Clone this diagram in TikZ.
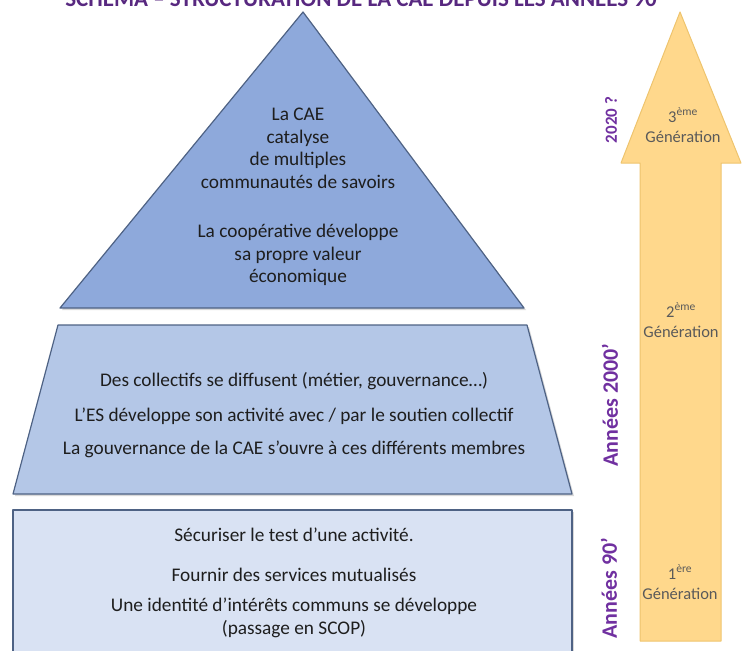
\documentclass[tikz,border=0pt]{standalone}
\usepackage{fontspec}
\setmainfont{Carlito}
\usetikzlibrary{shadows}
\definecolor{topblue}{RGB}{142,169,219}
\definecolor{midblue}{RGB}{180,199,231}
\definecolor{lowblue}{RGB}{217,226,243}
\definecolor{edgeblue}{RGB}{78,98,132}
\definecolor{arrowfill}{RGB}{255,216,140}
\definecolor{arrowedge}{RGB}{238,196,110}
\definecolor{eraviolet}{RGB}{112,48,160}
\definecolor{titleviolet}{RGB}{88,40,128}
\definecolor{bodytext}{RGB}{30,30,30}
\definecolor{gentext}{RGB}{90,90,90}
\begin{document}
\begin{tikzpicture}[x=1pt, y=-1pt,
  level/.style={draw=edgeblue, line width=1.2pt, line join=round,
    drop shadow={shadow xshift=2pt, shadow yshift=-2pt, opacity=0.3}},
  leveltext/.style={align=center, text=bodytext, font=\fontsize{19.3}{22.5}\selectfont},
  era/.style={rotate=90, text=eraviolet, font=\bfseries\fontsize{22}{26}\selectfont},
  gen/.style={align=center, text=gentext, font=\fontsize{16.5}{20}\selectfont}]
\useasboundingbox (0,0) rectangle (746,650);
\clip (0,0) rectangle (746,650);
\node[anchor=base, text=titleviolet, font=\bfseries\fontsize{23}{27}\selectfont] (title) at (361,7){SCHÉMA – STRUCTURATION DE LA CAE DEPUIS LES ANNÉES 90};
\draw[draw=arrowedge, fill=arrowfill, line width=1pt, line join=round] (680,12) -- (741,163) -- (721,163) -- (721,641) -- (640,641) -- (640,163) -- (621,163) -- cycle;
\draw[level, fill=lowblue] (13,510) rectangle (572,670);
\draw[level, fill=midblue] (58,325) -- (527,325) -- (572,494) -- (13,494) -- cycle;
\draw[level, fill=topblue] (303,12) -- (524,308) -- (60,308) -- cycle;
\node[leveltext] (gen3txt) at (298,197){La CAE\\catalyse\\de multiples\\communautés de savoirs\\[27pt]La coopérative développe\\sa propre valeur\\économique};
\node[leveltext] (gen2txt) at (294,415){Des collectifs se diffusent (métier, gouvernance…)\\[12.5pt]L’ES développe son activité avec / par le soutien collectif\\[11pt]La gouvernance de la CAE s’ouvre à ces différents membres};
\node[leveltext] (gen1txt) at (294,583){Sécuriser le test d’une activité.\\[17.5pt]Fournir des services mutualisés\\[7.5pt]Une identité d’intérêts communs se développe\\(passage en SCOP)};
\node[era, font=\bfseries\fontsize{17}{20}\selectfont] (era3) at (611,120){2020 ?};
\node[era] (era2) at (610,405){Années 2000’};
\node[era] (era1) at (609,588){Années 90’};
\node[gen] (gen3) at (683,125){3\textsuperscript{ème}\\Génération};
\node[gen] (gen2) at (681,320){2\textsuperscript{ème}\\Génération};
\node[gen] (gen1) at (680,582){1\textsuperscript{ère}\\Génération};
\end{tikzpicture}
\end{document}
